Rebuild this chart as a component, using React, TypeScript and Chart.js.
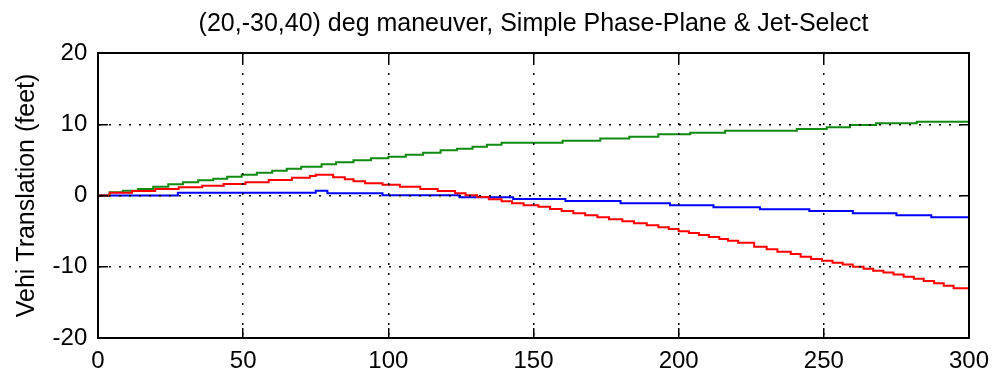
import React, { useEffect, useRef } from "react";
import { Chart, registerables } from "chart.js";

Chart.register(...registerables);

const titleText = "(20,-30,40) deg maneuver, Simple Phase-Plane & Jet-Select";
const yTitle = "Vehi Translation (feet)";

const xMin = 0;
const xMax = 300;
const xStep = 50;
const yMin = -20;
const yMax = 20;
const yStep = 10;

// step starts (time) and values
const greenT = [0, 4, 8.6, 13.8, 19, 24.2, 29.3, 34.5, 39.7, 44.5, 49.5, 54.7, 60, 65, 70, 77, 82, 88, 94, 100, 106, 112, 118, 123.6, 129, 134, 139, 160, 173, 183, 193, 204, 216, 240.7, 251, 259, 268, 282, 300];
const greenV = [0, 0.45, 0.67, 0.9, 1.24, 1.57, 1.85, 2.13, 2.36, 2.64, 2.92, 3.2, 3.48, 3.76, 4.05, 4.38, 4.66, 4.94, 5.22, 5.45, 5.73, 6.0, 6.34, 6.57, 6.85, 7.13, 7.41, 7.7, 8.0, 8.25, 8.6, 8.8, 9.1, 9.33, 9.57, 9.9, 10.13, 10.36, 10.36];

const redT = [0, 4, 11.7, 19.7, 27.8, 35.9, 43.3, 50.8, 58.8, 66.8, 73, 75, 81, 85, 88, 92, 98, 104, 111, 117, 123, 126.6, 130.6, 134.6, 139, 142.6, 146.6, 151.7, 155.7, 159.7, 163.7, 167.8, 172, 176, 180.6, 184.6, 189, 193, 196.6, 200, 203.5, 207, 210.4, 214, 217, 220.5, 226, 230.3, 234, 238.6, 242, 245.6, 249.4, 253, 256.5, 260, 263.7, 267, 270.5, 274, 277.5, 281, 284.4, 288, 291.3, 294.7, 300];
const redV = [0, 0.4, 0.63, 0.9, 1.15, 1.38, 1.6, 1.85, 2.17, 2.5, 2.75, 2.9, 2.55, 2.27, 1.99, 1.71, 1.5, 1.24, 0.91, 0.63, 0.3, 0.03, -0.2, -0.53, -0.82, -1.1, -1.38, -1.57, -1.9, -2.18, -2.5, -2.78, -3.06, -3.34, -3.62, -3.9, -4.18, -4.46, -4.7, -5.0, -5.26, -5.54, -5.82, -6.1, -6.34, -6.62, -7.18, -7.55, -7.9, -8.2, -8.6, -8.9, -9.15, -9.43, -9.7, -10.0, -10.27, -10.55, -10.8, -11.1, -11.4, -11.7, -12.0, -12.3, -12.65, -13.0, -13.3];

const blueT = [0, 27.5, 75, 79, 98, 124.5, 143, 161, 180, 197, 212, 228, 245, 260, 275, 287, 300];
const blueV = [0, 0.38, 0.67, 0.3, 0.03, -0.25, -0.5, -0.77, -1.1, -1.38, -1.66, -1.94, -2.18, -2.5, -2.78, -3.06, -3.06];

const pts = (t: number[], v: number[]) => t.map((x, i) => ({ x, y: v[i] }));

const FONT = "'Liberation Sans', Arial, Helvetica, sans-serif";

export default function App() {
  const ref = useRef<HTMLCanvasElement | null>(null);
  useEffect(() => {
    document.body.style.margin = "0";
    if (!ref.current) return;
    const gridCommon = {
      color: "#000",
      lineWidth: 1.5,
      drawTicks: true,
      tickLength: -10,
      tickColor: "#000",
      tickWidth: 1.5,
      tickBorderDash: [],
      z: 1,
    };
    const borderCommon = { display: true, color: "#000", width: 2, dash: [2, 8], z: 1 };
    const chart = new Chart(ref.current, {
      type: "line",
      data: {
        datasets: [
          { label: "red", data: pts(redT, redV), borderColor: "#ff0000", borderWidth: 2, stepped: true, pointRadius: 0, fill: false },
          { label: "green", data: pts(greenT, greenV), borderColor: "#118a11", borderWidth: 2, stepped: true, pointRadius: 0, fill: false },
          { label: "blue", data: pts(blueT, blueV), borderColor: "#0000ff", borderWidth: 2, stepped: true, pointRadius: 0, fill: false },
        ],
      },
      options: {
        animation: false,
        responsive: false,
        layout: { padding: 0 },
        plugins: {
          legend: { display: false },
          tooltip: { enabled: false },
          title: {
            display: true,
            text: titleText,
            fullSize: false,
            color: "#000",
            font: { family: FONT, size: 25, weight: "normal" },
            padding: { top: 9, bottom: 5 },
          },
        },
        scales: {
          x: {
            type: "linear",
            position: "bottom",
            min: xMin,
            max: xMax,
            ticks: { stepSize: xStep, padding: 18.6, color: "#000", font: { family: FONT, size: 24 }, maxRotation: 0 },
            grid: { ...gridCommon },
            border: { ...borderCommon },
            afterFit: (s: any) => { s.height = 44; s.paddingLeft = 0; s.paddingRight = 0; },
          },
          x2: {
            type: "linear",
            position: "top",
            min: xMin,
            max: xMax,
            ticks: { stepSize: xStep, display: false },
            grid: { ...gridCommon, drawOnChartArea: false },
            border: { ...borderCommon },
            afterFit: (s: any) => { s.height = 53 - 9 - 5 - 30; s.paddingLeft = 0; s.paddingRight = 0; },
          },
          y: {
            type: "linear",
            position: "left",
            min: yMin,
            max: yMax,
            ticks: { stepSize: yStep, padding: 20.7, color: "#000", font: { family: FONT, size: 24 } },
            grid: { ...gridCommon },
            border: { ...borderCommon },
            title: { display: true, text: yTitle, color: "#000", font: { family: FONT, size: 25 }, padding: { top: 12, bottom: 0 } },
            afterFit: (s: any) => { s.width = 98; },
          },
          y2: {
            type: "linear",
            position: "right",
            min: yMin,
            max: yMax,
            ticks: { stepSize: yStep, display: false },
            grid: { ...gridCommon, drawOnChartArea: false },
            border: { ...borderCommon },
            afterFit: (s: any) => { s.width = 23; },
          },
        },
      },
    });
    return () => chart.destroy();
  }, []);
  return (
    <div style={{ position: "absolute", left: 0, top: 0, width: 992, height: 382, background: "#fff" }}>
      <canvas ref={ref} width={992} height={382} />
    </div>
  );
}
